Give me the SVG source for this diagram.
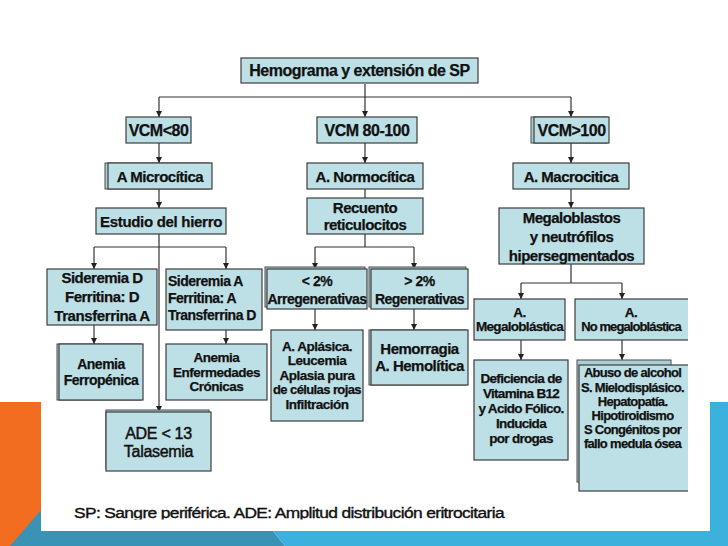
<svg xmlns="http://www.w3.org/2000/svg" width="728" height="546" viewBox="0 0 728 546">
<defs>
<style>
.box{fill:#bde0e6;stroke:#3c3c3c;stroke-width:1.2}
.back{fill:#a8cfd6;stroke:#4a4a4a;stroke-width:1}
.t{font-family:"Liberation Sans",Arial,sans-serif;font-weight:bold;fill:#111;stroke:#111;stroke-width:0.25;text-anchor:middle;letter-spacing:-0.5px}
.l{text-anchor:start}
.r{font-weight:normal;stroke-width:0.45}
.c{stroke:#333;stroke-width:1.2;fill:none}
.a{marker-end:url(#ah)}
</style>
<marker id="ah" markerUnits="userSpaceOnUse" markerWidth="7" markerHeight="7" refX="6" refY="3" orient="auto">
<path d="M0,0 L6,3 L0,6 z" fill="#222"/>
</marker>
<clipPath id="cr"><rect x="0" y="0" width="688" height="546"/></clipPath>
<clipPath id="cf"><rect x="0" y="0" width="728" height="519.5"/></clipPath>
</defs>
<rect width="728" height="546" fill="#ffffff"/>
<g id="background">
<rect x="0" y="402" width="41" height="144" fill="#f36d21"/>
<polygon points="41,510 41,531 273,531 285,546 10,546" fill="#3a93b4"/>
<polygon points="273,531 728,531 728,546 285,546" fill="#3cb1de"/>
<rect x="710" y="402" width="18" height="130" fill="#3cb1de"/>
</g>
<g id="connectors">
<path class="c" d="M365,84 V97 M159,97 H571"/>
<path class="c a" d="M159,97 V117"/>
<path class="c a" d="M365,97 V117"/>
<path class="c a" d="M571,97 V117"/>
<path class="c a" d="M159,143 V163"/>
<path class="c a" d="M159,189 V208"/>
<path class="c" d="M159,234 V247 M94,247 H226"/>
<path class="c a" d="M94,247 V269"/>
<path class="c a" d="M226,247 V269"/>
<path class="c a" d="M159,247 V412"/>
<path class="c a" d="M94,325 V344"/>
<path class="c a" d="M226,330 V344"/>
<path class="c a" d="M365,143 V163"/>
<path class="c" d="M365,189 V198"/>
<path class="c" d="M365,234 V247 M315,247 H414"/>
<path class="c a" d="M315,247 V269"/>
<path class="c a" d="M414,247 V269"/>
<path class="c a" d="M315,309 V330"/>
<path class="c a" d="M414,309 V330"/>
<path class="c a" d="M571,143 V163"/>
<path class="c a" d="M571,189 V208"/>
<path class="c" d="M571,264 V283 M521,283 H622"/>
<path class="c a" d="M521,283 V299"/>
<path class="c a" d="M622,283 V299"/>
<path class="c a" d="M521,340 V360"/>
<path class="c a" d="M622,340 V360"/>
</g>
<g id="n-hemograma">
<rect class="box" x="241" y="58" width="237" height="25"/>
<text class="t" x="359.5" y="76" font-size="16">Hemograma y extensión de SP</text>
</g>
<g id="n-vcm80">
<rect class="box" x="126" y="117" width="65" height="26"/>
<text class="t" x="158.5" y="136" font-size="16">VCM&lt;80</text>
</g>
<g id="n-vcm80100">
<rect class="box" x="317" y="117" width="100" height="26"/>
<text class="t" x="367" y="136" font-size="16">VCM 80-100</text>
</g>
<g id="n-vcm100">
<rect class="back" x="531" y="117" width="76" height="26"/>
<rect class="box" x="534" y="117" width="75" height="26"/>
<text class="t" x="571.5" y="136" font-size="16">VCM&gt;100</text>
</g>
<g id="n-microcitica">
<rect class="back" x="105" y="163" width="104" height="26"/>
<rect class="box" x="108" y="163" width="104" height="26"/>
<text class="t" x="160" y="181.5" font-size="15">A Microcítica</text>
</g>
<g id="n-normocitica">
<rect class="box" x="307" y="163" width="116" height="26"/>
<text class="t" x="365" y="181.5" font-size="15">A. Normocítica</text>
</g>
<g id="n-macrocitica">
<rect class="box" x="513" y="163" width="116" height="26"/>
<text class="t" x="571" y="181.5" font-size="15">A. Macrocitica</text>
</g>
<g id="n-hierro">
<rect class="box" x="96" y="208" width="130" height="26"/>
<text class="t" x="161" y="226.5" font-size="15" style="letter-spacing:-0.3px">Estudio del hierro</text>
</g>
<g id="n-recuento">
<rect class="box" x="307" y="198" width="116" height="36"/>
<text class="t" x="365" y="212.5" font-size="15">Recuento</text>
<text class="t" x="365" y="229.5" font-size="15">reticulocitos</text>
</g>
<g id="n-megaloblastos">
<rect class="box" x="499" y="208" width="145" height="56"/>
<text class="t" x="571.5" y="223" font-size="15">Megaloblastos</text>
<text class="t" x="571.5" y="242" font-size="15">y neutrófilos</text>
<text class="t" x="571.5" y="261" font-size="15">hipersegmentados</text>
</g>
<g id="n-sideremiaD">
<rect class="box" x="47" y="269" width="110" height="56"/>
<text class="t" x="102" y="283" font-size="15">Sideremia D</text>
<text class="t" x="102" y="302" font-size="15">Ferritina: D</text>
<text class="t" x="102" y="321" font-size="15" style="letter-spacing:-0.4px">Transferrina A</text>
</g>
<g id="n-sideremiaA">
<rect class="box" x="166" y="269" width="96" height="61"/>
<text class="t l" x="168" y="286" font-size="14">Sideremia A</text>
<text class="t l" x="168" y="303" font-size="14">Ferritina: A</text>
<text class="t l" x="168" y="320" font-size="14">Transferrina D</text>
</g>
<g id="n-menor2">
<rect class="back" x="265" y="267" width="100" height="40"/>
<rect class="box" x="267" y="269" width="100" height="40"/>
<text class="t" x="317" y="286" font-size="14">&lt; 2%</text>
<text class="t" x="317" y="304" font-size="14">Arregenerativas</text>
</g>
<g id="n-mayor2">
<rect class="back" x="369" y="267" width="97" height="40"/>
<rect class="box" x="371" y="269" width="97" height="40"/>
<text class="t" x="419.5" y="286" font-size="14">&gt; 2%</text>
<text class="t" x="419.5" y="304" font-size="14">Regenerativas</text>
</g>
<g id="n-megaloblastica">
<rect class="box" x="474" y="299" width="91" height="41"/>
<text class="t" x="519.5" y="317" font-size="13.5">A.</text>
<text class="t" x="519.5" y="331" font-size="13.5" style="letter-spacing:-0.7px">Megaloblástica</text>
</g>
<g id="n-nomegaloblastica" clip-path="url(#cr)">
<rect class="box" x="575" y="299" width="120" height="41"/>
<text class="t" x="631" y="317" font-size="13.5">A.</text>
<text class="t" x="631" y="331" font-size="13" style="letter-spacing:-0.9px">No megaloblástica</text>
</g>
<g id="n-ferropenica">
<rect class="back" x="57" y="344" width="84" height="56"/>
<rect class="box" x="59" y="344" width="84" height="56"/>
<text class="t" x="101" y="369" font-size="14">Anemia</text>
<text class="t" x="101" y="385" font-size="14">Ferropénica</text>
</g>
<g id="n-cronicas">
<rect class="box" x="166" y="344" width="101" height="56"/>
<text class="t" x="216.5" y="362" font-size="13.5">Anemia</text>
<text class="t" x="216.5" y="377" font-size="13.5">Enfermedades</text>
<text class="t" x="216.5" y="391" font-size="13.5">Crónicas</text>
</g>
<g id="n-aplasica">
<rect class="box" x="271" y="330" width="92" height="91"/>
<text class="t" x="317" y="351" font-size="13.5">A. Aplásica.</text>
<text class="t" x="317" y="365" font-size="13.5">Leucemia</text>
<text class="t" x="317" y="380" font-size="13.5">Aplasia pura</text>
<text class="t" x="317" y="394" font-size="13" style="letter-spacing:-0.6px">de células rojas</text>
<text class="t" x="317" y="409" font-size="13.5">Infiltración</text>
</g>
<g id="n-hemorragia">
<rect class="back" x="369" y="330" width="97" height="55"/>
<rect class="box" x="371" y="330" width="97" height="55"/>
<text class="t" x="419.5" y="354" font-size="15">Hemorragia</text>
<text class="t" x="419.5" y="371" font-size="15">A. Hemolítica</text>
</g>
<g id="n-deficiencia">
<rect class="box" x="474" y="360" width="94" height="100"/>
<text class="t" x="521" y="383" font-size="13.5" style="letter-spacing:-0.7px">Deficiencia de</text>
<text class="t" x="521" y="398" font-size="13.5" style="letter-spacing:-0.7px">Vitamina B12</text>
<text class="t" x="521" y="413" font-size="13.5" style="letter-spacing:-0.7px">y Acido Fólico.</text>
<text class="t" x="521" y="428" font-size="13.5" style="letter-spacing:-0.7px">Inducida</text>
<text class="t" x="521" y="443" font-size="13.5" style="letter-spacing:-0.7px">por drogas</text>
</g>
<g id="n-abuso" clip-path="url(#cr)">
<rect class="back" x="577" y="360" width="94" height="122"/>
<rect class="box" x="579" y="365" width="115" height="126"/>
<text class="t" x="632.5" y="377" font-size="13" style="letter-spacing:-0.7px">Abuso de alcohol</text>
<text class="t" x="632.5" y="392" font-size="13" style="letter-spacing:-0.7px">S. Mielodisplásico.</text>
<text class="t" x="632.5" y="406" font-size="13" style="letter-spacing:-0.7px">Hepatopatía.</text>
<text class="t" x="632.5" y="420" font-size="13" style="letter-spacing:-0.7px">Hipotiroidismo</text>
<text class="t" x="632.5" y="434" font-size="13" style="letter-spacing:-0.7px">S Congénitos por</text>
<text class="t" x="632.5" y="448" font-size="13" style="letter-spacing:-0.7px">fallo medula ósea</text>
</g>
<g id="n-ade">
<rect class="back" x="106" y="410" width="103" height="59"/>
<rect class="box" x="106" y="412" width="105" height="59"/>
<text class="t r" x="158.5" y="439" font-size="16" style="letter-spacing:-0.3px">ADE &lt; 13</text>
<text class="t r" x="158.5" y="457" font-size="16" style="letter-spacing:-0.3px">Talasemia</text>
</g>
<g id="footer" clip-path="url(#cf)">
<text class="t l r" x="74" y="518" font-size="14" textLength="430" lengthAdjust="spacingAndGlyphs" style="stroke-width:0.35">SP: Sangre periférica. ADE: Amplitud distribución eritrocitaria</text>
</g>
</svg>
